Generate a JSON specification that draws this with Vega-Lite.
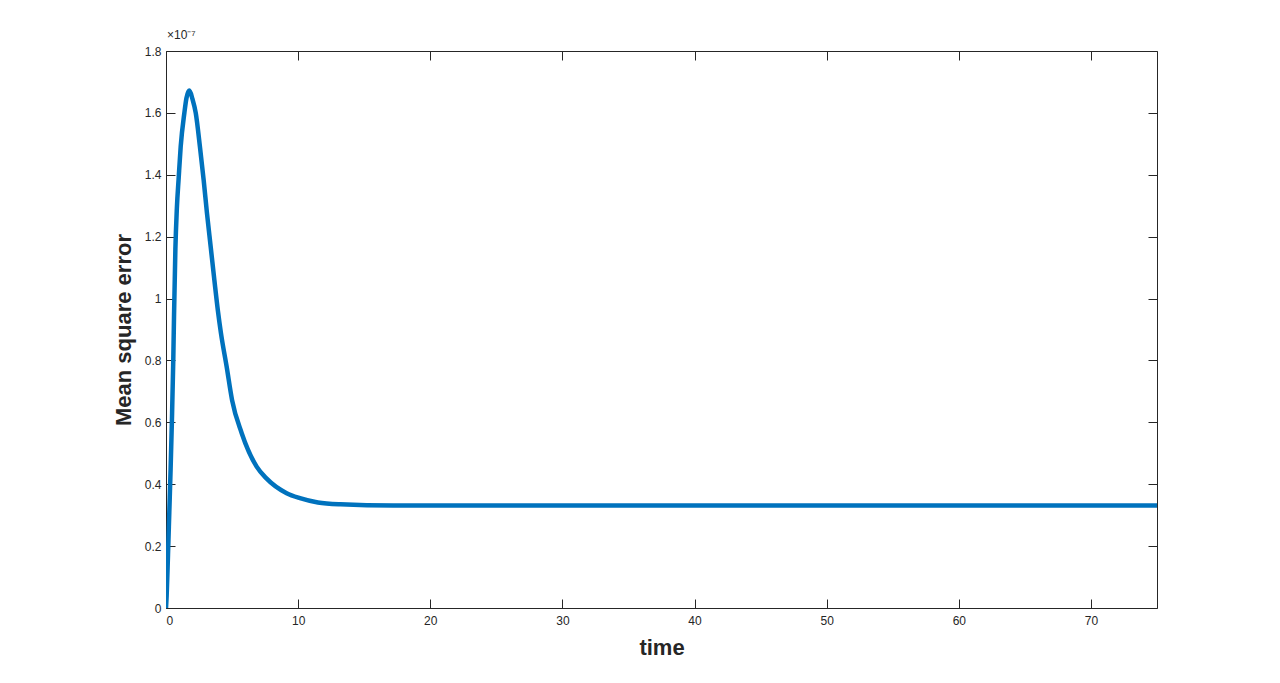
{
  "$schema": "https://vega.github.io/schema/vega-lite/v6.json",
  "autosize": "none",
  "width": 991,
  "height": 557,
  "padding": {"left": 166, "top": 51, "right": 123, "bottom": 75},
  "background": "white",
  "config": {
    "view": {"stroke": null},
    "font": "Liberation Sans",
    "axis": {"grid": false, "domainColor": "#262626", "tickColor": "#262626", "labelColor": "#262626", "titleColor": "#262626", "labelFontSize": 12, "labelFont": "Liberation Sans", "titleFont": "Liberation Sans", "titleFontSize": 22, "titleFontWeight": "bold", "tickSize": -9, "domainWidth": 1, "tickWidth": 1}
  },
  "title": {"text": "×10⁻⁷", "anchor": "start", "frame": "group", "fontSize": 12, "fontWeight": "normal", "color": "#262626", "offset": 3, "dx": 1, "font": "Liberation Sans"},
  "data": {"values": [
    {"time": 0, "mse": 0},
    {"time": 0.05, "mse": 0.04e-7},
    {"time": 0.15, "mse": 0.17e-7},
    {"time": 0.25, "mse": 0.31e-7},
    {"time": 0.35, "mse": 0.45e-7},
    {"time": 0.45, "mse": 0.61e-7},
    {"time": 0.55, "mse": 0.8e-7},
    {"time": 0.61, "mse": 0.95e-7},
    {"time": 0.71, "mse": 1.16e-7},
    {"time": 0.82, "mse": 1.29e-7},
    {"time": 0.96, "mse": 1.39e-7},
    {"time": 1.11, "mse": 1.49e-7},
    {"time": 1.39, "mse": 1.6e-7},
    {"time": 1.55, "mse": 1.648e-7},
    {"time": 1.77, "mse": 1.672e-7},
    {"time": 2.0, "mse": 1.645e-7},
    {"time": 2.25, "mse": 1.6e-7},
    {"time": 2.57, "mse": 1.49e-7},
    {"time": 2.85, "mse": 1.383e-7},
    {"time": 3.1, "mse": 1.276e-7},
    {"time": 3.38, "mse": 1.168e-7},
    {"time": 3.66, "mse": 1.06e-7},
    {"time": 3.93, "mse": 0.96e-7},
    {"time": 4.16, "mse": 0.888e-7},
    {"time": 4.59, "mse": 0.78e-7},
    {"time": 5.0, "mse": 0.672e-7},
    {"time": 5.73, "mse": 0.565e-7},
    {"time": 6.86, "mse": 0.457e-7},
    {"time": 7.62, "mse": 0.418e-7},
    {"time": 9.13, "mse": 0.371e-7},
    {"time": 10.14, "mse": 0.355e-7},
    {"time": 11.5, "mse": 0.341e-7},
    {"time": 13.2, "mse": 0.335e-7},
    {"time": 17.2, "mse": 0.331e-7},
    {"time": 30, "mse": 0.331e-7},
    {"time": 50, "mse": 0.331e-7},
    {"time": 75, "mse": 0.331e-7}
  ]},
  "resolve": {"axis": {"x": "independent", "y": "independent"}},
  "layer": [
    {
      "mark": {"type": "line", "color": "#0072BD", "strokeWidth": 4.5, "interpolate": "monotone", "clip": true},
      "encoding": {
        "x": {"field": "time", "type": "quantitative", "scale": {"domain": [0, 75], "nice": false, "zero": false},
          "axis": {"orient": "bottom", "title": "time", "values": [0, 10, 20, 30, 40, 50, 60, 70], "labelPadding": 16, "titlePadding": 11}},
        "y": {"field": "mse", "type": "quantitative", "scale": {"domain": [0, 1.8e-7], "nice": false},
          "axis": {"orient": "left", "title": "Mean square error", "values": [0, 0.2e-7, 0.4e-7, 0.6e-7, 0.8e-7, 1e-7, 1.2e-7, 1.4e-7, 1.6e-7, 1.8e-7], "labelExpr": "format(datum.value * 1e7, '.1~f')", "labelPadding": 14, "titlePadding": 9}}
      }
    },
    {
      "mark": {"type": "line", "opacity": 0},
      "encoding": {
        "x": {"field": "time", "type": "quantitative", "axis": {"orient": "top", "title": null, "labels": false, "values": [0, 10, 20, 30, 40, 50, 60, 70]}},
        "y": {"field": "mse", "type": "quantitative", "axis": {"orient": "right", "title": null, "labels": false, "values": [0, 0.2e-7, 0.4e-7, 0.6e-7, 0.8e-7, 1e-7, 1.2e-7, 1.4e-7, 1.6e-7, 1.8e-7]}}
      }
    }
  ]
}
